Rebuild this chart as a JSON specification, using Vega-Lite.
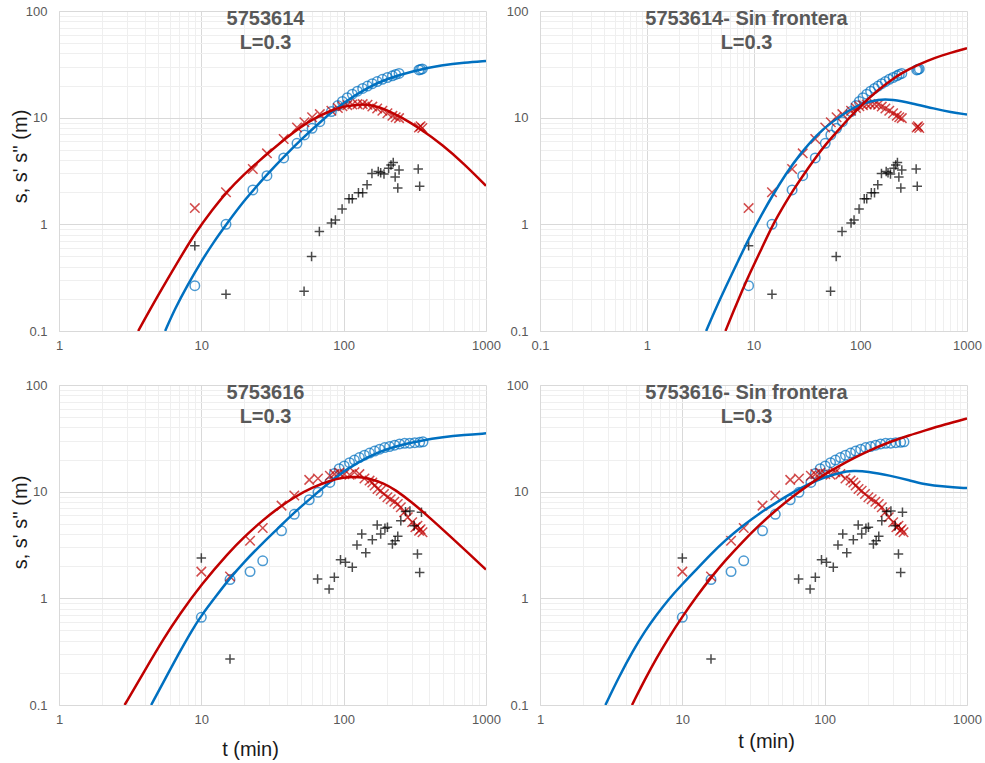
{
  "$schema": "https://vega.github.io/schema/vega-lite/v6.json",
  "background": "white",
  "padding": {"left": 10, "top": 5, "right": 5, "bottom": 5},
  "config": {
    "view": {"stroke": null},
    "font": "Liberation Sans",
    "title": {"font": "Liberation Sans", "fontSize": 20, "fontWeight": "bold", "color": "#595959", "anchor": "middle", "offset": -48, "dx": -7, "lineHeight": 24},
    "axis": {
      "labelFont": "Liberation Sans", "labelFontSize": 13, "labelColor": "#595959",
      "ticks": false, "tickSize": 0, "domainColor": "#d9d9d9", "domainWidth": 1,
      "grid": true, "gridWidth": 1,
      "gridColor": {"condition": {"test": "abs(log(datum.value)/LN10 - round(log(datum.value)/LN10)) < 0.001", "value": "#d9d9d9"}, "value": "#efefef"},
      "labelExpr": "abs(log(datum.value)/LN10 - round(log(datum.value)/LN10)) < 0.001 ? datum.label : ''",
      "format": "~g", "labelOverlap": false, "labelFlush": false,
      "titleFont": "Liberation Sans", "titleFontSize": 20, "titleFontWeight": "normal", "titleColor": "#1a1a1a"
    },
    "axisX": {"labelPadding": 8},
    "axisY": {"labelPadding": 12}
  },
  "datasets": {
    "w614": [
      {"t": 9, "v": 0.266, "series": "s"}, {"t": 14.9, "v": 1.0, "series": "s"}, {"t": 23, "v": 2.1, "series": "s"}, {"t": 28.9, "v": 2.86, "series": "s"}, {"t": 37.9, "v": 4.19, "series": "s"}, {"t": 47, "v": 5.75, "series": "s"}, {"t": 53, "v": 6.88, "series": "s"}, {"t": 60, "v": 7.95, "series": "s"}, {"t": 68, "v": 9.16, "series": "s"}, {"t": 82, "v": 11.4, "series": "s"}, {"t": 91, "v": 13.0, "series": "s"}, {"t": 98, "v": 14.2, "series": "s"}, {"t": 106, "v": 15.4, "series": "s"}, {"t": 115, "v": 16.6, "series": "s"}, {"t": 125, "v": 17.7, "series": "s"}, {"t": 136, "v": 18.8, "series": "s"}, {"t": 147, "v": 19.8, "series": "s"}, {"t": 159, "v": 20.8, "series": "s"}, {"t": 172, "v": 21.8, "series": "s"}, {"t": 187, "v": 22.9, "series": "s"}, {"t": 203, "v": 23.8, "series": "s"}, {"t": 220, "v": 24.7, "series": "s"}, {"t": 232, "v": 25.4, "series": "s"}, {"t": 245, "v": 26.0, "series": "s"}, {"t": 338, "v": 28.0, "series": "s"}, {"t": 347, "v": 28.3, "series": "s"}, {"t": 357, "v": 28.6, "series": "s"},
      {"t": 9, "v": 1.42, "series": "s'"}, {"t": 14.9, "v": 2.0, "series": "s'"}, {"t": 23, "v": 3.3, "series": "s'"}, {"t": 28.9, "v": 4.63, "series": "s'"}, {"t": 37.9, "v": 6.3, "series": "s'"}, {"t": 47, "v": 8.1, "series": "s'"}, {"t": 53, "v": 9.05, "series": "s'"}, {"t": 60, "v": 10.1, "series": "s'"}, {"t": 68, "v": 10.8, "series": "s'"}, {"t": 82, "v": 11.6, "series": "s'"}, {"t": 91, "v": 12.3, "series": "s'"}, {"t": 98, "v": 12.8, "series": "s'"}, {"t": 106, "v": 13.1, "series": "s'"}, {"t": 115, "v": 13.3, "series": "s'"}, {"t": 125, "v": 13.4, "series": "s'"}, {"t": 136, "v": 13.4, "series": "s'"}, {"t": 147, "v": 13.2, "series": "s'"}, {"t": 159, "v": 12.7, "series": "s'"}, {"t": 172, "v": 12.2, "series": "s'"}, {"t": 187, "v": 11.6, "series": "s'"}, {"t": 203, "v": 11.0, "series": "s'"}, {"t": 220, "v": 10.4, "series": "s'"}, {"t": 232, "v": 10.1, "series": "s'"}, {"t": 245, "v": 9.9, "series": "s'"}, {"t": 338, "v": 8.1, "series": "s'"}, {"t": 347, "v": 8.3, "series": "s'"}, {"t": 357, "v": 8.0, "series": "s'"},
      {"t": 9, "v": 0.63, "series": "s''"}, {"t": 14.9, "v": 0.221, "series": "s''"}, {"t": 52.7, "v": 0.236, "series": "s''"}, {"t": 59.5, "v": 0.5, "series": "s''"}, {"t": 67.5, "v": 0.855, "series": "s''"}, {"t": 82, "v": 1.03, "series": "s''"}, {"t": 87.5, "v": 1.1, "series": "s''"}, {"t": 97.5, "v": 1.39, "series": "s''"}, {"t": 109, "v": 1.74, "series": "s''"}, {"t": 115, "v": 1.74, "series": "s''"}, {"t": 127, "v": 1.98, "series": "s''"}, {"t": 136, "v": 1.98, "series": "s''"}, {"t": 146, "v": 2.35, "series": "s''"}, {"t": 158, "v": 3.0, "series": "s''"}, {"t": 175, "v": 3.13, "series": "s''"}, {"t": 182, "v": 3.05, "series": "s''"}, {"t": 192, "v": 2.97, "series": "s''"}, {"t": 207, "v": 3.36, "series": "s''"}, {"t": 215, "v": 3.6, "series": "s''"}, {"t": 223, "v": 3.8, "series": "s''"}, {"t": 230, "v": 2.78, "series": "s''"}, {"t": 240, "v": 2.19, "series": "s''"}, {"t": 245, "v": 3.23, "series": "s''"}, {"t": 334, "v": 3.3, "series": "s''"}, {"t": 342, "v": 2.28, "series": "s''"}
    ],
    "w616": [
      {"t": 10, "v": 0.664, "series": "s"}, {"t": 15.9, "v": 1.5, "series": "s"}, {"t": 22, "v": 1.78, "series": "s"}, {"t": 27, "v": 2.25, "series": "s"}, {"t": 36.6, "v": 4.3, "series": "s"}, {"t": 45, "v": 6.13, "series": "s"}, {"t": 57.3, "v": 8.4, "series": "s"}, {"t": 66, "v": 9.86, "series": "s"}, {"t": 80, "v": 12.2, "series": "s"}, {"t": 86, "v": 14.8, "series": "s"}, {"t": 93, "v": 16.4, "series": "s"}, {"t": 101, "v": 17.4, "series": "s"}, {"t": 110, "v": 18.7, "series": "s"}, {"t": 119, "v": 19.8, "series": "s"}, {"t": 129, "v": 20.9, "series": "s"}, {"t": 140, "v": 22.0, "series": "s"}, {"t": 152, "v": 23.0, "series": "s"}, {"t": 165, "v": 24.0, "series": "s"}, {"t": 179, "v": 25.0, "series": "s"}, {"t": 194, "v": 25.9, "series": "s"}, {"t": 210, "v": 26.5, "series": "s"}, {"t": 228, "v": 27.3, "series": "s"}, {"t": 247, "v": 28.0, "series": "s"}, {"t": 268, "v": 28.4, "series": "s"}, {"t": 291, "v": 28.5, "series": "s"}, {"t": 316, "v": 28.8, "series": "s"}, {"t": 342, "v": 29.0, "series": "s"}, {"t": 361, "v": 29.3, "series": "s"},
      {"t": 10, "v": 1.78, "series": "s'"}, {"t": 15.9, "v": 1.6, "series": "s'"}, {"t": 22, "v": 3.47, "series": "s'"}, {"t": 27, "v": 4.57, "series": "s'"}, {"t": 36.6, "v": 7.4, "series": "s'"}, {"t": 45, "v": 9.2, "series": "s'"}, {"t": 57.3, "v": 12.9, "series": "s'"}, {"t": 66, "v": 13.3, "series": "s'"}, {"t": 80, "v": 14.1, "series": "s'"}, {"t": 86, "v": 14.6, "series": "s'"}, {"t": 93, "v": 15.0, "series": "s'"}, {"t": 101, "v": 14.6, "series": "s'"}, {"t": 110, "v": 14.4, "series": "s'"}, {"t": 119, "v": 15.2, "series": "s'"}, {"t": 129, "v": 14.6, "series": "s'"}, {"t": 140, "v": 13.3, "series": "s'"}, {"t": 152, "v": 12.7, "series": "s'"}, {"t": 159, "v": 12.2, "series": "s'"}, {"t": 165, "v": 11.4, "series": "s'"}, {"t": 173, "v": 10.6, "series": "s'"}, {"t": 182, "v": 10.2, "series": "s'"}, {"t": 192, "v": 9.5, "series": "s'"}, {"t": 203, "v": 8.85, "series": "s'"}, {"t": 214, "v": 8.5, "series": "s'"}, {"t": 227, "v": 8.05, "series": "s'"}, {"t": 240, "v": 7.66, "series": "s'"}, {"t": 252, "v": 7.13, "series": "s'"}, {"t": 266, "v": 6.4, "series": "s'"}, {"t": 282, "v": 5.75, "series": "s'"}, {"t": 303, "v": 5.16, "series": "s'"}, {"t": 319, "v": 4.63, "series": "s'"}, {"t": 330, "v": 4.8, "series": "s'"}, {"t": 339, "v": 4.3, "series": "s'"}, {"t": 347, "v": 4.45, "series": "s'"}, {"t": 358, "v": 4.16, "series": "s'"},
      {"t": 10, "v": 2.39, "series": "s''"}, {"t": 15.9, "v": 0.27, "series": "s''"}, {"t": 65.6, "v": 1.52, "series": "s''"}, {"t": 79, "v": 1.22, "series": "s''"}, {"t": 86, "v": 1.58, "series": "s''"}, {"t": 95, "v": 2.3, "series": "s''"}, {"t": 103, "v": 2.18, "series": "s''"}, {"t": 115, "v": 1.96, "series": "s''"}, {"t": 124, "v": 3.16, "series": "s''"}, {"t": 134, "v": 4.0, "series": "s''"}, {"t": 143, "v": 2.68, "series": "s''"}, {"t": 159, "v": 3.55, "series": "s''"}, {"t": 172, "v": 4.87, "series": "s''"}, {"t": 182, "v": 4.0, "series": "s''"}, {"t": 195, "v": 4.55, "series": "s''"}, {"t": 203, "v": 4.63, "series": "s''"}, {"t": 220, "v": 3.23, "series": "s''"}, {"t": 230, "v": 3.47, "series": "s''"}, {"t": 240, "v": 3.81, "series": "s''"}, {"t": 252, "v": 5.35, "series": "s''"}, {"t": 272, "v": 6.5, "series": "s''"}, {"t": 292, "v": 6.6, "series": "s''"}, {"t": 313, "v": 4.8, "series": "s''"}, {"t": 330, "v": 2.6, "series": "s''"}, {"t": 342, "v": 1.75, "series": "s''"}, {"t": 352, "v": 6.4, "series": "s''"}
    ],
    "c1": [
      {"t": 5.57, "v": 0.1, "series": "s"}, {"t": 6.5, "v": 0.16, "series": "s"}, {"t": 8, "v": 0.27, "series": "s"}, {"t": 10, "v": 0.45, "series": "s"}, {"t": 12, "v": 0.66, "series": "s"}, {"t": 15, "v": 1.0, "series": "s"}, {"t": 20, "v": 1.68, "series": "s"}, {"t": 30, "v": 3.1, "series": "s"}, {"t": 40, "v": 4.6, "series": "s"}, {"t": 50, "v": 6.2, "series": "s"}, {"t": 70, "v": 9.4, "series": "s"}, {"t": 100, "v": 13.9, "series": "s"}, {"t": 150, "v": 19.5, "series": "s"}, {"t": 200, "v": 23.0, "series": "s"}, {"t": 300, "v": 27.3, "series": "s"}, {"t": 500, "v": 31.2, "series": "s"}, {"t": 700, "v": 32.8, "series": "s"}, {"t": 1000, "v": 34.0, "series": "s"},
      {"t": 3.6, "v": 0.1, "series": "s'"}, {"t": 5, "v": 0.22, "series": "s'"}, {"t": 7, "v": 0.47, "series": "s'"}, {"t": 9, "v": 0.82, "series": "s'"}, {"t": 12, "v": 1.38, "series": "s'"}, {"t": 15, "v": 2.0, "series": "s'"}, {"t": 20, "v": 2.95, "series": "s'"}, {"t": 25, "v": 3.85, "series": "s'"}, {"t": 30, "v": 4.75, "series": "s'"}, {"t": 40, "v": 6.55, "series": "s'"}, {"t": 50, "v": 8.2, "series": "s'"}, {"t": 60, "v": 9.6, "series": "s'"}, {"t": 80, "v": 11.6, "series": "s'"}, {"t": 100, "v": 12.8, "series": "s'"}, {"t": 130, "v": 13.4, "series": "s'"}, {"t": 160, "v": 13.1, "series": "s'"}, {"t": 200, "v": 11.9, "series": "s'"}, {"t": 250, "v": 10.2, "series": "s'"}, {"t": 340, "v": 8.0, "series": "s'"}, {"t": 500, "v": 5.5, "series": "s'"}, {"t": 700, "v": 3.7, "series": "s'"}, {"t": 1000, "v": 2.3, "series": "s'"}
    ],
    "c2": [
      {"t": 3.6, "v": 0.1, "series": "s"}, {"t": 4.3, "v": 0.152, "series": "s"}, {"t": 5.5, "v": 0.26, "series": "s"}, {"t": 7, "v": 0.43, "series": "s"}, {"t": 9, "v": 0.73, "series": "s"}, {"t": 12, "v": 1.25, "series": "s"}, {"t": 15, "v": 1.85, "series": "s"}, {"t": 20, "v": 2.95, "series": "s"}, {"t": 27, "v": 4.5, "series": "s"}, {"t": 40, "v": 7.1, "series": "s"}, {"t": 55, "v": 9.2, "series": "s"}, {"t": 75, "v": 11.4, "series": "s"}, {"t": 100, "v": 13.5, "series": "s"}, {"t": 150, "v": 14.9, "series": "s"}, {"t": 200, "v": 14.8, "series": "s"}, {"t": 300, "v": 13.7, "series": "s"}, {"t": 500, "v": 12.1, "series": "s"}, {"t": 700, "v": 11.3, "series": "s"}, {"t": 1000, "v": 10.7, "series": "s"},
      {"t": 5.46, "v": 0.1, "series": "s'"}, {"t": 6.6, "v": 0.16, "series": "s'"}, {"t": 8, "v": 0.25, "series": "s'"}, {"t": 9, "v": 0.33, "series": "s'"}, {"t": 12, "v": 0.6, "series": "s'"}, {"t": 15.2, "v": 1.0, "series": "s'"}, {"t": 20, "v": 1.6, "series": "s'"}, {"t": 23.4, "v": 2.07, "series": "s'"}, {"t": 29, "v": 2.86, "series": "s'"}, {"t": 38, "v": 4.2, "series": "s'"}, {"t": 48, "v": 5.7, "series": "s'"}, {"t": 60, "v": 7.3, "series": "s'"}, {"t": 75, "v": 9.4, "series": "s'"}, {"t": 100, "v": 12.9, "series": "s'"}, {"t": 150, "v": 18.5, "series": "s'"}, {"t": 200, "v": 23.0, "series": "s'"}, {"t": 250, "v": 26.5, "series": "s'"}, {"t": 340, "v": 31.0, "series": "s'"}, {"t": 500, "v": 36.5, "series": "s'"}, {"t": 700, "v": 40.5, "series": "s'"}, {"t": 1000, "v": 44.7, "series": "s'"}
    ],
    "c3": [
      {"t": 4.44, "v": 0.1, "series": "s"}, {"t": 5.5, "v": 0.17, "series": "s"}, {"t": 7, "v": 0.31, "series": "s"}, {"t": 8.5, "v": 0.49, "series": "s"}, {"t": 10, "v": 0.69, "series": "s"}, {"t": 12.5, "v": 1.02, "series": "s"}, {"t": 15.7, "v": 1.52, "series": "s"}, {"t": 20, "v": 2.2, "series": "s"}, {"t": 27, "v": 3.3, "series": "s"}, {"t": 35, "v": 4.6, "series": "s"}, {"t": 45, "v": 6.4, "series": "s"}, {"t": 60, "v": 8.9, "series": "s"}, {"t": 80, "v": 12.3, "series": "s"}, {"t": 103, "v": 16.0, "series": "s"}, {"t": 150, "v": 21.5, "series": "s"}, {"t": 200, "v": 25.0, "series": "s"}, {"t": 250, "v": 27.4, "series": "s"}, {"t": 350, "v": 30.2, "series": "s"}, {"t": 500, "v": 32.5, "series": "s"}, {"t": 700, "v": 34.0, "series": "s"}, {"t": 1000, "v": 35.2, "series": "s"},
      {"t": 2.89, "v": 0.1, "series": "s'"}, {"t": 4, "v": 0.21, "series": "s'"}, {"t": 5.5, "v": 0.43, "series": "s'"}, {"t": 7, "v": 0.7, "series": "s'"}, {"t": 10, "v": 1.35, "series": "s'"}, {"t": 15.7, "v": 2.72, "series": "s'"}, {"t": 20, "v": 3.77, "series": "s'"}, {"t": 27, "v": 5.4, "series": "s'"}, {"t": 35, "v": 7.1, "series": "s'"}, {"t": 45, "v": 8.9, "series": "s'"}, {"t": 60, "v": 10.95, "series": "s'"}, {"t": 80, "v": 12.7, "series": "s'"}, {"t": 100, "v": 13.6, "series": "s'"}, {"t": 120, "v": 13.85, "series": "s'"}, {"t": 150, "v": 13.4, "series": "s'"}, {"t": 190, "v": 12.05, "series": "s'"}, {"t": 230, "v": 10.45, "series": "s'"}, {"t": 300, "v": 8.0, "series": "s'"}, {"t": 400, "v": 5.75, "series": "s'"}, {"t": 556, "v": 3.85, "series": "s'"}, {"t": 750, "v": 2.66, "series": "s'"}, {"t": 1000, "v": 1.86, "series": "s'"}
    ],
    "c4": [
      {"t": 2.88, "v": 0.1, "series": "s"}, {"t": 3.6, "v": 0.185, "series": "s"}, {"t": 4.48, "v": 0.32, "series": "s"}, {"t": 5.5, "v": 0.5, "series": "s"}, {"t": 6.54, "v": 0.69, "series": "s"}, {"t": 8, "v": 0.98, "series": "s"}, {"t": 10, "v": 1.36, "series": "s"}, {"t": 12.5, "v": 1.85, "series": "s"}, {"t": 15.9, "v": 2.6, "series": "s"}, {"t": 20, "v": 3.5, "series": "s"}, {"t": 26.6, "v": 4.8, "series": "s"}, {"t": 35, "v": 6.3, "series": "s"}, {"t": 45.7, "v": 7.9, "series": "s"}, {"t": 60, "v": 9.9, "series": "s"}, {"t": 75, "v": 11.6, "series": "s"}, {"t": 97, "v": 13.5, "series": "s"}, {"t": 130, "v": 15.2, "series": "s"}, {"t": 158, "v": 15.7, "series": "s"}, {"t": 200, "v": 15.5, "series": "s"}, {"t": 286, "v": 14.2, "series": "s"}, {"t": 400, "v": 12.7, "series": "s"}, {"t": 491, "v": 11.8, "series": "s"}, {"t": 700, "v": 11.1, "series": "s"}, {"t": 1000, "v": 10.8, "series": "s"},
      {"t": 4.43, "v": 0.1, "series": "s'"}, {"t": 5.5, "v": 0.177, "series": "s'"}, {"t": 6.54, "v": 0.271, "series": "s'"}, {"t": 8, "v": 0.426, "series": "s'"}, {"t": 10, "v": 0.673, "series": "s'"}, {"t": 12.5, "v": 1.03, "series": "s'"}, {"t": 15.9, "v": 1.57, "series": "s'"}, {"t": 20, "v": 2.26, "series": "s'"}, {"t": 26.6, "v": 3.42, "series": "s'"}, {"t": 35, "v": 4.91, "series": "s'"}, {"t": 45.7, "v": 6.76, "series": "s'"}, {"t": 60, "v": 9.07, "series": "s'"}, {"t": 78, "v": 11.7, "series": "s'"}, {"t": 97, "v": 14.2, "series": "s'"}, {"t": 130, "v": 17.8, "series": "s'"}, {"t": 160, "v": 20.6, "series": "s'"}, {"t": 200, "v": 23.9, "series": "s'"}, {"t": 286, "v": 29.3, "series": "s'"}, {"t": 400, "v": 34.0, "series": "s'"}, {"t": 491, "v": 37.0, "series": "s'"}, {"t": 700, "v": 42.8, "series": "s'"}, {"t": 1000, "v": 48.5, "series": "s'"}
    ]
  },
  "columns": 2,
  "spacing": {"row": 54, "column": 54},
  "bounds": "flush",
  "concat": [
    {
      "width": 427, "height": 320,
      "title": {"text": ["5753614", "L=0.3"]},
      "encoding": {
        "x": {"field": "t", "type": "quantitative", "scale": {"type": "log", "domain": [1, 1000], "nice": false},
              "axis": {"title": null, "values": [1,2,3,4,5,6,7,8,9,10,20,30,40,50,60,70,80,90,100,200,300,400,500,600,700,800,900,1000]}},
        "y": {"field": "v", "type": "quantitative", "scale": {"type": "log", "domain": [0.1, 100], "nice": false},
              "axis": {"title": "s, s' s'' (m)", "titleX": -39, "titleY": 145, "titleAlign": "center", "titleBaseline": "middle", "titleAngle": 270,
                       "values": [0.1,0.2,0.3,0.4,0.5,0.6,0.7,0.8,0.9,1,2,3,4,5,6,7,8,9,10,20,30,40,50,60,70,80,90,100]}},
        "color": {"field": "series", "type": "nominal", "scale": {"domain": ["s", "s'", "s''"], "range": ["#0070C0", "#C00000", "#000000"]}, "legend": null}
      },
      "layer": [
        {"data": {"name": "w614"}, "mark": {"type": "point", "filled": false, "strokeWidth": 1.5, "clip": true},
         "encoding": {"shape": {"field": "series", "type": "nominal", "scale": {"domain": ["s", "s'", "s''"], "range": ["circle", "M-1,-1L1,1M-1,1L1,-1", "M-1,0L1,0M0,-1L0,1"]}, "legend": null},
                      "size": {"field": "series", "type": "nominal", "scale": {"domain": ["s", "s'", "s''"], "range": [90, 90, 80]}, "legend": null}}},
        {"data": {"name": "c1"}, "mark": {"type": "line", "strokeWidth": 2.5, "interpolate": "basis", "clip": true}, "encoding": {}}
      ]
    },
    {
      "width": 427, "height": 320,
      "title": {"text": ["5753614- Sin frontera", "L=0.3"]},
      "encoding": {
        "x": {"field": "t", "type": "quantitative", "scale": {"type": "log", "domain": [0.1, 1000], "nice": false},
              "axis": {"title": null, "values": [0.1,0.2,0.3,0.4,0.5,0.6,0.7,0.8,0.9,1,2,3,4,5,6,7,8,9,10,20,30,40,50,60,70,80,90,100,200,300,400,500,600,700,800,900,1000]}},
        "y": {"field": "v", "type": "quantitative", "scale": {"type": "log", "domain": [0.1, 100], "nice": false},
              "axis": {"title": null, "values": [0.1,0.2,0.3,0.4,0.5,0.6,0.7,0.8,0.9,1,2,3,4,5,6,7,8,9,10,20,30,40,50,60,70,80,90,100]}},
        "color": {"field": "series", "type": "nominal", "scale": {"domain": ["s", "s'", "s''"], "range": ["#0070C0", "#C00000", "#000000"]}, "legend": null}
      },
      "layer": [
        {"data": {"name": "w614"}, "mark": {"type": "point", "filled": false, "strokeWidth": 1.5, "clip": true},
         "encoding": {"shape": {"field": "series", "type": "nominal", "scale": {"domain": ["s", "s'", "s''"], "range": ["circle", "M-1,-1L1,1M-1,1L1,-1", "M-1,0L1,0M0,-1L0,1"]}, "legend": null},
                      "size": {"field": "series", "type": "nominal", "scale": {"domain": ["s", "s'", "s''"], "range": [90, 90, 80]}, "legend": null}}},
        {"data": {"name": "c2"}, "mark": {"type": "line", "strokeWidth": 2.5, "interpolate": "basis", "clip": true}, "encoding": {}}
      ]
    },
    {
      "width": 427, "height": 320,
      "title": {"text": ["5753616", "L=0.3"]},
      "encoding": {
        "x": {"field": "t", "type": "quantitative", "scale": {"type": "log", "domain": [1, 1000], "nice": false},
              "axis": {"title": "t (min)", "titleX": 191, "titleY": 44, "titleAlign": "center", "titleBaseline": "middle",
                       "values": [1,2,3,4,5,6,7,8,9,10,20,30,40,50,60,70,80,90,100,200,300,400,500,600,700,800,900,1000]}},
        "y": {"field": "v", "type": "quantitative", "scale": {"type": "log", "domain": [0.1, 100], "nice": false},
              "axis": {"title": "s, s' s'' (m)", "titleX": -39, "titleY": 137, "titleAlign": "center", "titleBaseline": "middle", "titleAngle": 270,
                       "values": [0.1,0.2,0.3,0.4,0.5,0.6,0.7,0.8,0.9,1,2,3,4,5,6,7,8,9,10,20,30,40,50,60,70,80,90,100]}},
        "color": {"field": "series", "type": "nominal", "scale": {"domain": ["s", "s'", "s''"], "range": ["#0070C0", "#C00000", "#000000"]}, "legend": null}
      },
      "layer": [
        {"data": {"name": "w616"}, "mark": {"type": "point", "filled": false, "strokeWidth": 1.5, "clip": true},
         "encoding": {"shape": {"field": "series", "type": "nominal", "scale": {"domain": ["s", "s'", "s''"], "range": ["circle", "M-1,-1L1,1M-1,1L1,-1", "M-1,0L1,0M0,-1L0,1"]}, "legend": null},
                      "size": {"field": "series", "type": "nominal", "scale": {"domain": ["s", "s'", "s''"], "range": [90, 90, 80]}, "legend": null}}},
        {"data": {"name": "c3"}, "mark": {"type": "line", "strokeWidth": 2.5, "interpolate": "basis", "clip": true}, "encoding": {}}
      ]
    },
    {
      "width": 427, "height": 320,
      "title": {"text": ["5753616- Sin frontera", "L=0.3"]},
      "encoding": {
        "x": {"field": "t", "type": "quantitative", "scale": {"type": "log", "domain": [1, 1000], "nice": false},
              "axis": {"title": "t (min)", "titleX": 226, "titleY": 36, "titleAlign": "center", "titleBaseline": "middle",
                       "values": [1,2,3,4,5,6,7,8,9,10,20,30,40,50,60,70,80,90,100,200,300,400,500,600,700,800,900,1000]}},
        "y": {"field": "v", "type": "quantitative", "scale": {"type": "log", "domain": [0.1, 100], "nice": false},
              "axis": {"title": null, "values": [0.1,0.2,0.3,0.4,0.5,0.6,0.7,0.8,0.9,1,2,3,4,5,6,7,8,9,10,20,30,40,50,60,70,80,90,100]}},
        "color": {"field": "series", "type": "nominal", "scale": {"domain": ["s", "s'", "s''"], "range": ["#0070C0", "#C00000", "#000000"]}, "legend": null}
      },
      "layer": [
        {"data": {"name": "w616"}, "mark": {"type": "point", "filled": false, "strokeWidth": 1.5, "clip": true},
         "encoding": {"shape": {"field": "series", "type": "nominal", "scale": {"domain": ["s", "s'", "s''"], "range": ["circle", "M-1,-1L1,1M-1,1L1,-1", "M-1,0L1,0M0,-1L0,1"]}, "legend": null},
                      "size": {"field": "series", "type": "nominal", "scale": {"domain": ["s", "s'", "s''"], "range": [90, 90, 80]}, "legend": null}}},
        {"data": {"name": "c4"}, "mark": {"type": "line", "strokeWidth": 2.5, "interpolate": "basis", "clip": true}, "encoding": {}}
      ]
    }
  ]
}
